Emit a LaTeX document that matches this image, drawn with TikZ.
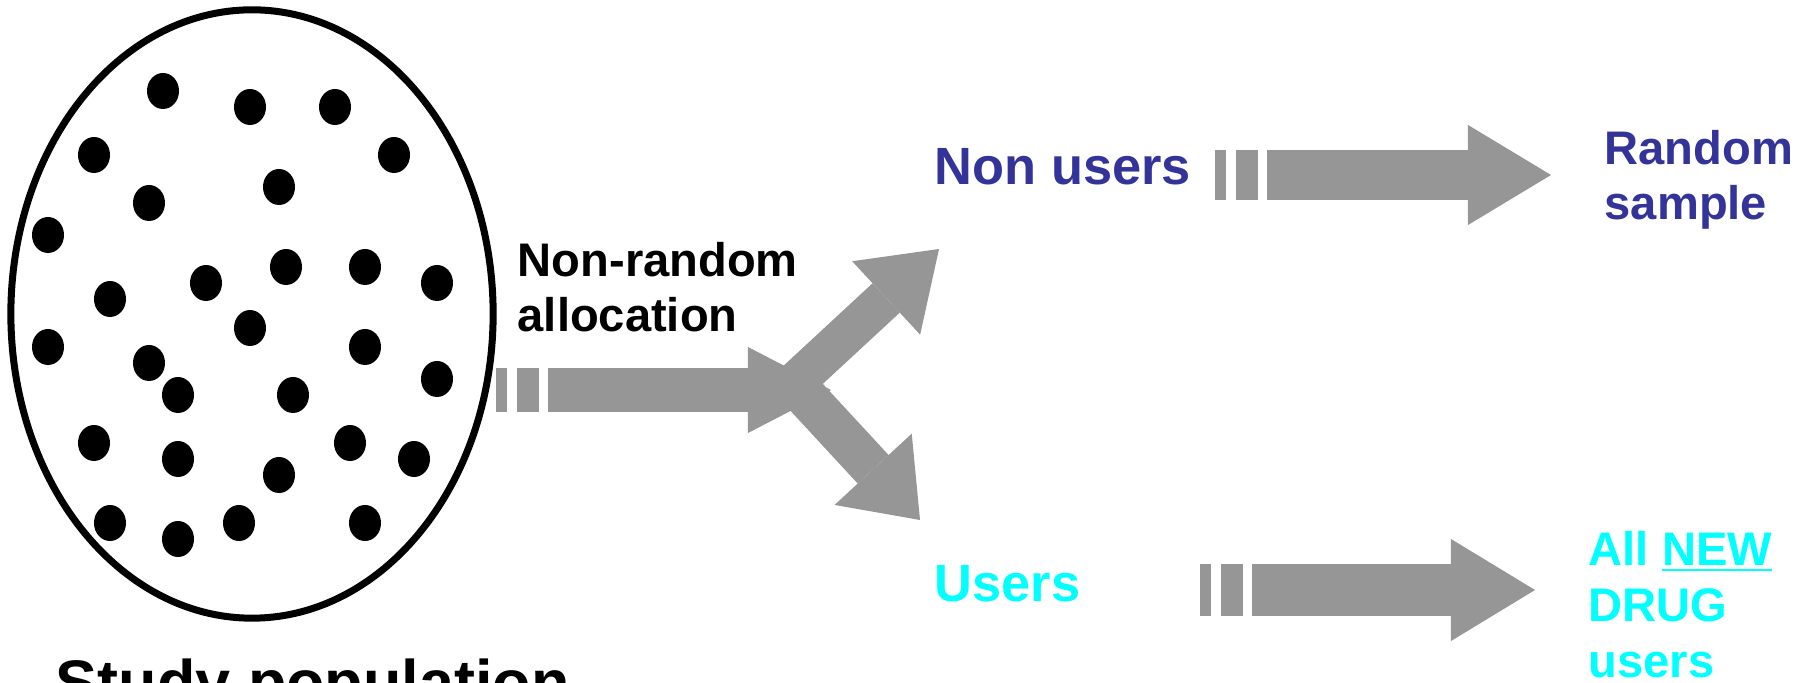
\documentclass[tikz,border=0pt]{standalone}
\usepackage{fontspec}
\setmainfont{Liberation Sans}
\usetikzlibrary{arrows.meta, positioning, shapes.geometric}
\definecolor{arrowgray}{RGB}{150,150,150}
\definecolor{nonuserblue}{RGB}{51,51,153}
\definecolor{usercyan}{RGB}{0,255,255}
\tikzset{
    x=0.01cm, y=-0.01cm, % one unit is one pixel, y runs downwards
    dot/.style={fill=black}, % the members of the population
    txt/.style={inner sep=0pt, anchor=base west, align=left,
        font=\bfseries\fontsize{13.4}{15.9}\selectfont},
    grouptxt/.style={txt, font=\bfseries\fontsize{14.9}{17}\selectfont},
    studytxt/.style={txt, font=\bfseries\fontsize{17.9}{20}\selectfont},
    % broken start of the wide arrows
    brokenstart/.style={dash pattern=on 0.11cm off 0.10cm on 0.22cm off 0.09cm on 20cm},
    wide/.style={draw=arrowgray, line cap=butt, line width=#1},
}

\begin{document}
\begin{tikzpicture}
    \path[use as bounding box] (0,0) rectangle (1810,683);
    \clip (0,0) rectangle (1810,683);

    % Population
    \node[draw, ellipse, line width=0.07cm, minimum width=4.82cm,
        minimum height=6.08cm, inner sep=0pt] (pop) at (252,314) {};
    \foreach \dx/\dy in {163/91, 250/107, 335/107, 94/155, 394/155,
        279/187, 149/203, 48/235, 286/267, 365/267, 206/283, 437/283,
        110/299, 250/328, 48/347, 365/347, 149/363, 437/379, 178/395,
        293/395, 94/443, 350/443, 178/459, 414/459, 279/475, 110/523,
        239/523, 365/523, 178/539}
        \fill[dot] (\dx,\dy) ellipse [x radius=0.16cm, y radius=0.18cm];
    \node[studytxt] (study) at (55,705) {Study population};

    % Labels (anchored at the baseline of their last line)
    \node[txt] (alloc) at (517,332) {Non-random\\allocation};
    \node[grouptxt, text=nonuserblue] (nonusers) at (934,185) {Non users};
    \node[grouptxt, text=usercyan, below=4.16cm of nonusers.base west,
        anchor=base west] (users) {Users};
    \node[txt, text=nonuserblue] (sample) at (1604,220) {Random\\sample};
    \node[txt, text=usercyan] (newusers) at (1588,677) {All \underline{NEW}\\DRUG\\users};

    % Arrow ends
    \coordinate (popout) at (496,390);
    \coordinate (fork) at (831,390);
    \coordinate (upstart) at (790,387);
    \coordinate (uptip) at (939,249);
    \coordinate (downstart) at (798,388);
    \coordinate (downtip) at (920,520);
    \coordinate (nonusersout) at (1215,175);
    \coordinate (sampletip) at (1551,175);
    \coordinate (usersout) at (1200,590);
    \coordinate (newtip) at (1535,590);

    % Arrows
    \draw[wide=0.43cm, brokenstart,
        -{Triangle[width=0.86cm, length=0.83cm, line width=0pt]}] (popout) -- (fork);
    \draw[wide=0.40cm,
        -{Triangle[width=1.0cm, length=0.72cm, line width=0pt]}] (upstart) -- (uptip);
    \draw[wide=0.42cm,
        -{Triangle[width=1.05cm, length=0.69cm, line width=0pt]}] (downstart) -- (downtip);
    \draw[wide=0.50cm, brokenstart,
        -{Triangle[width=1.0cm, length=0.83cm, line width=0pt]}] (nonusersout) -- (sampletip);
    \draw[wide=0.52cm, brokenstart,
        -{Triangle[width=1.02cm, length=0.84cm, line width=0pt]}] (usersout) -- (newtip);
\end{tikzpicture}
\end{document}
